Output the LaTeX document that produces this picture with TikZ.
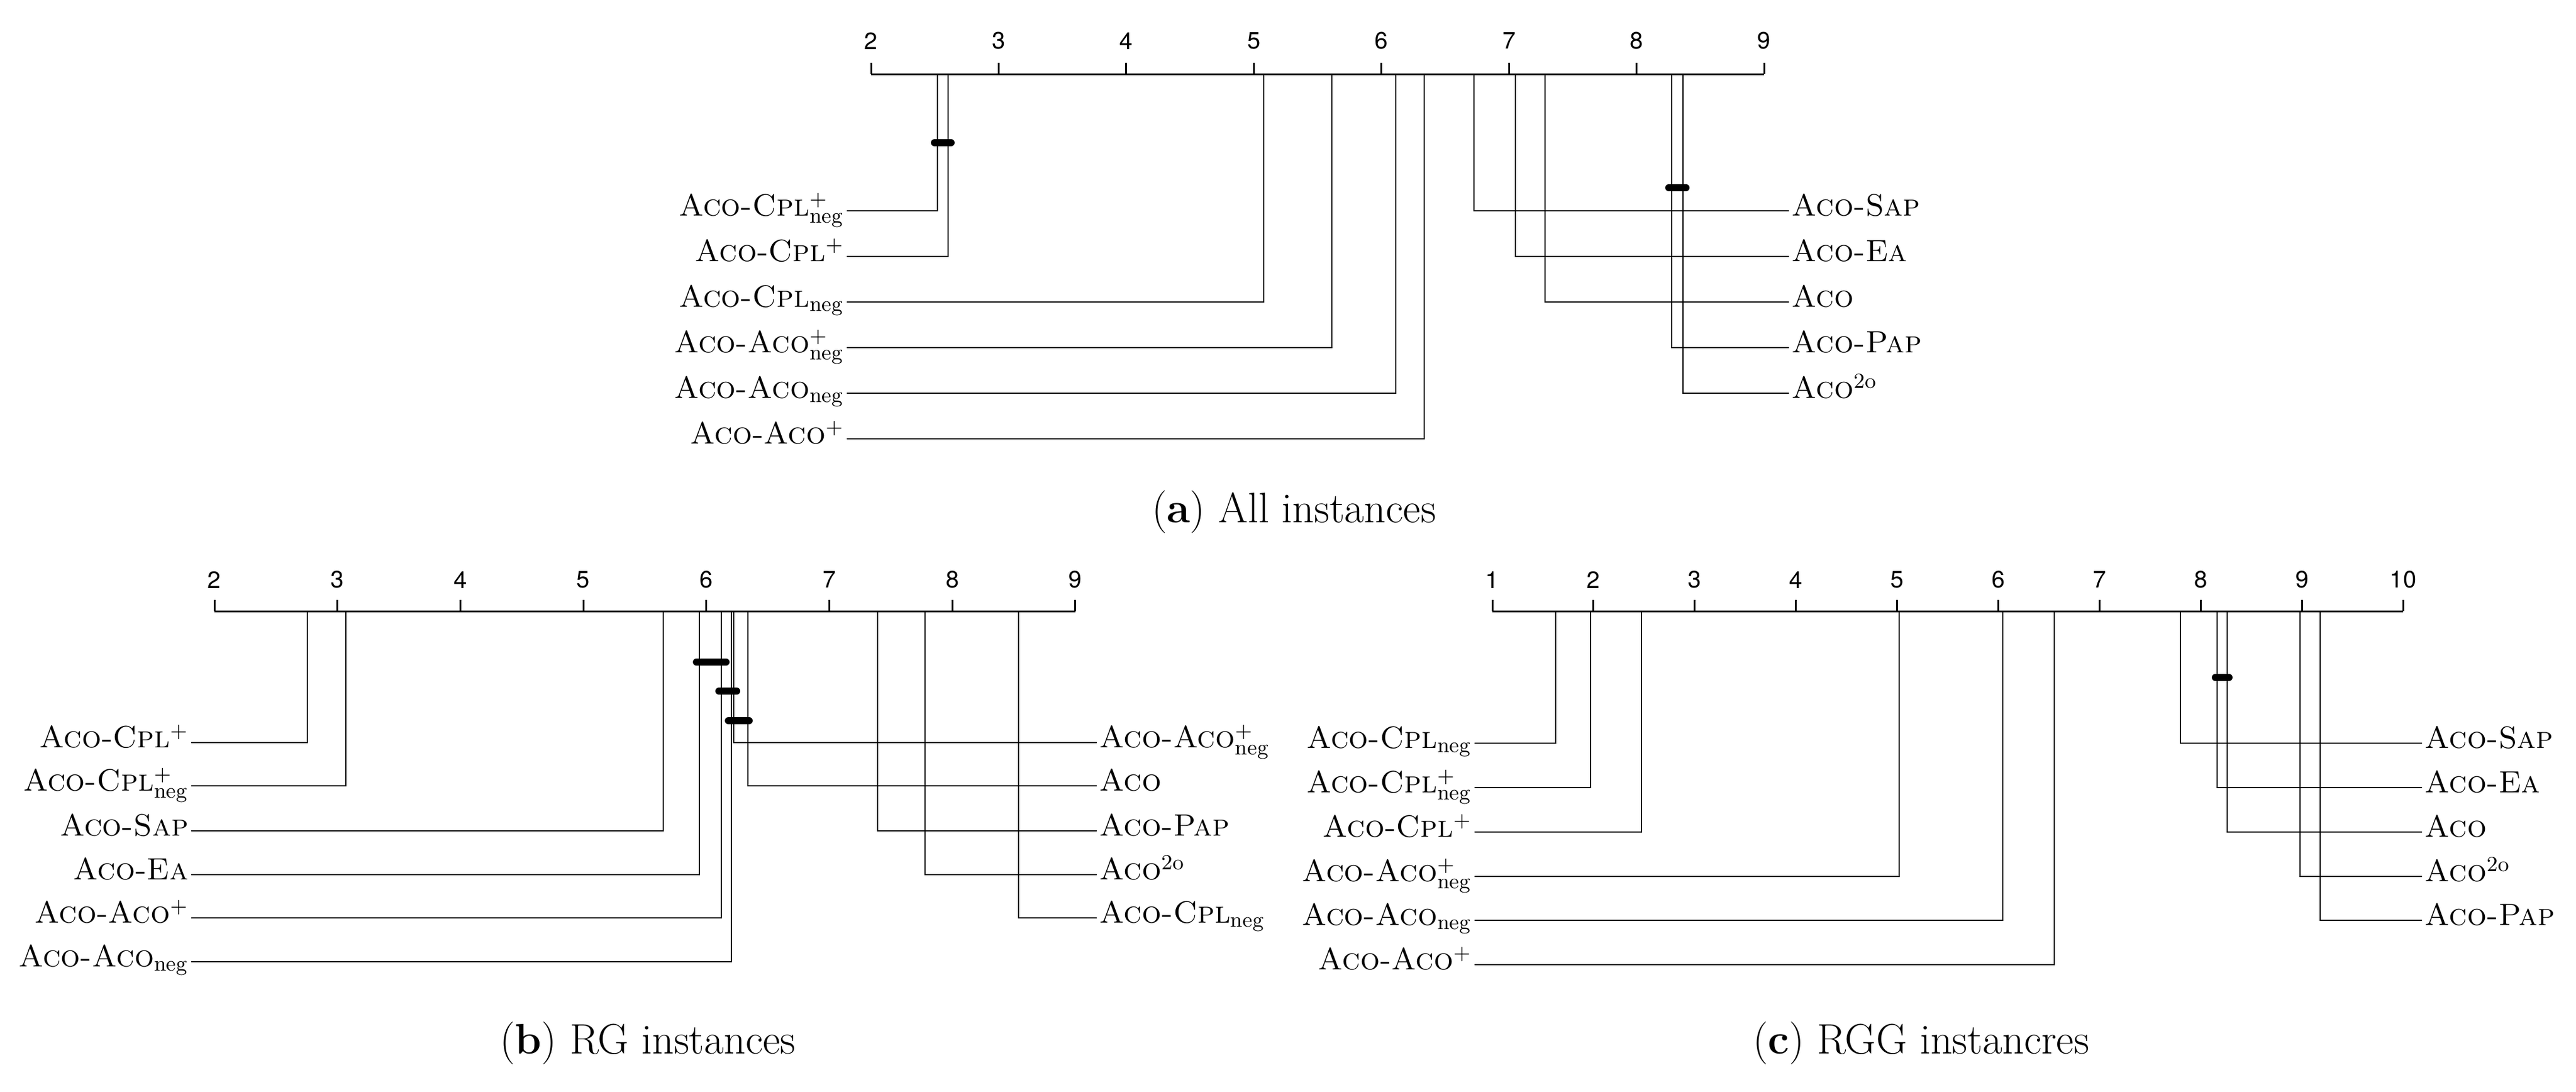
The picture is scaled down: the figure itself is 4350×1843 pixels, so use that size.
\documentclass[tikz,border=0pt]{standalone}
\usepackage{fontspec}
\newfontfamily\ticksf{TeX Gyre Heros}
\begin{document}
\begin{tikzpicture}[x=0.25pt,y=-0.25pt,
  lab/.style={font=\fontsize{13}{15}\selectfont,inner sep=1pt},
  tk/.style={font=\ticksf\fontsize{10}{12}\selectfont,inner sep=0pt},
  ln/.style={line width=0.55pt},
  ax/.style={line width=0.75pt},
  bar/.style={line width=3pt,line cap=round},
  captxt/.style={font=\fontsize{18}{22}\selectfont}]
\useasboundingbox (0,0) rectangle (4350,1843);
\newcommand\LL[6]{\coordinate (#1t) at (#2,#3);
  \node[lab,anchor=mid east] (#1) at (#5,#4) {#6};
  \draw[ln] (#1t) |- (#1.mid east);}
\newcommand\RL[6]{\coordinate (#1t) at (#2,#3);
  \node[lab,anchor=mid west] (#1) at (#5,#4) {#6};
  \draw[ln] (#1t) |- (#1.mid west);}
% ---------- (a)
\coordinate (a0) at (1471,125); \coordinate (a1) at (2979,125);
\draw[ax] (a0) -- (a1);
\foreach \k in {0,...,7}{\pgfmathsetmacro\xx{1471+\k*215.43}\pgfmathtruncatemacro\lab{\k+2}
  \draw[ax] (\xx,125) -- (\xx,106); \node[tk] (at\k) at (\xx,69) {\lab};}
\LL{a1l}{1583}{125}{356}{1430}{\textsc{Aco-Cpl}$^{+}_{\mathrm{neg}}$}
\LL{a2l}{1601}{125}{433}{1430}{\textsc{Aco-Cpl}$^{+}$}
\LL{a3l}{2134}{125}{510}{1430}{\textsc{Aco-Cpl}$_{\mathrm{neg}}$}
\LL{a4l}{2249}{125}{587}{1430}{\textsc{Aco-Aco}$^{+}_{\mathrm{neg}}$}
\LL{a5l}{2357}{125}{664}{1430}{\textsc{Aco-Aco}$_{\mathrm{neg}}$}
\LL{a6l}{2405}{125}{741}{1430}{\textsc{Aco-Aco}$^{+}$}
\RL{a1r}{2489}{125}{356}{3021}{\textsc{Aco-Sap}}
\RL{a2r}{2559}{125}{433}{3021}{\textsc{Aco-Ea}}
\RL{a3r}{2609}{125}{510}{3021}{\textsc{Aco}}
\RL{a4r}{2823}{125}{587}{3021}{\textsc{Aco-Pap}}
\RL{a5r}{2842}{125}{664}{3021}{\textsc{Aco}$^{\mathrm{2o}}$}
\draw[bar] (1578,241) -- (1606,241);
\draw[bar] (2818,317) -- (2847,317);
\node[captxt] (capa) at (2185,865) {(\textbf{a}) All instances};
% ---------- (b)
\draw[ax] (362,1032) -- (1816,1032);
\foreach \k in {0,...,7}{\pgfmathsetmacro\xx{362+\k*207.7}\pgfmathtruncatemacro\lab{\k+2}
  \draw[ax] (\xx,1032) -- (\xx,1013); \node[tk] (bt\k) at (\xx,979) {\lab};}
\LL{b1l}{519}{1032}{1254}{323}{\textsc{Aco-Cpl}$^{+}$}
\LL{b2l}{584}{1032}{1327}{323}{\textsc{Aco-Cpl}$^{+}_{\mathrm{neg}}$}
\LL{b3l}{1120}{1032}{1403}{323}{\textsc{Aco-Sap}}
\LL{b4l}{1181}{1032}{1477}{323}{\textsc{Aco-Ea}}
\LL{b5l}{1218}{1032}{1550}{323}{\textsc{Aco-Aco}$^{+}$}
\LL{b6l}{1235}{1032}{1624}{323}{\textsc{Aco-Aco}$_{\mathrm{neg}}$}
\RL{b1r}{1239}{1032}{1254}{1852}{\textsc{Aco-Aco}$^{+}_{\mathrm{neg}}$}
\RL{b2r}{1263}{1032}{1327}{1852}{\textsc{Aco}}
\RL{b3r}{1482}{1032}{1403}{1852}{\textsc{Aco-Pap}}
\RL{b4r}{1562}{1032}{1477}{1852}{\textsc{Aco}$^{\mathrm{2o}}$}
\RL{b5r}{1720}{1032}{1550}{1852}{\textsc{Aco-Cpl}$_{\mathrm{neg}}$}
\draw[bar] (1176,1118) -- (1226,1118);
\draw[bar] (1214,1167) -- (1244,1167);
\draw[bar] (1230,1217) -- (1265,1217);
\node[captxt] (capb) at (1094,1762) {(\textbf{b}) RG instances};
% ---------- (c)
\draw[ax] (2520,1032) -- (4058,1032);
\foreach \k in {0,...,9}{\pgfmathsetmacro\xx{2520+\k*170.89}\pgfmathtruncatemacro\lab{\k+1}
  \draw[ax] (\xx,1032) -- (\xx,1013); \node[tk] (ct\k) at (\xx,979) {\lab};}
\LL{c1l}{2627}{1032}{1255}{2490}{\textsc{Aco-Cpl}$_{\mathrm{neg}}$}
\LL{c2l}{2686}{1032}{1330}{2490}{\textsc{Aco-Cpl}$^{+}_{\mathrm{neg}}$}
\LL{c3l}{2772}{1032}{1405}{2490}{\textsc{Aco-Cpl}$^{+}$}
\LL{c4l}{3207}{1032}{1480}{2490}{\textsc{Aco-Aco}$^{+}_{\mathrm{neg}}$}
\LL{c5l}{3382}{1032}{1554}{2490}{\textsc{Aco-Aco}$_{\mathrm{neg}}$}
\LL{c6l}{3469}{1032}{1629}{2490}{\textsc{Aco-Aco}$^{+}$}
\RL{c1r}{3682}{1032}{1255}{4090}{\textsc{Aco-Sap}}
\RL{c2r}{3744}{1032}{1330}{4090}{\textsc{Aco-Ea}}
\RL{c3r}{3761}{1032}{1405}{4090}{\textsc{Aco}}
\RL{c4r}{3884}{1032}{1480}{4090}{\textsc{Aco}$^{\mathrm{2o}}$}
\RL{c5r}{3918}{1032}{1554}{4090}{\textsc{Aco-Pap}}
\draw[bar] (3741,1144) -- (3764,1144);
\node[captxt] (capc) at (3244,1762) {(\textbf{c}) RGG instancres};
\end{tikzpicture}
\end{document}
